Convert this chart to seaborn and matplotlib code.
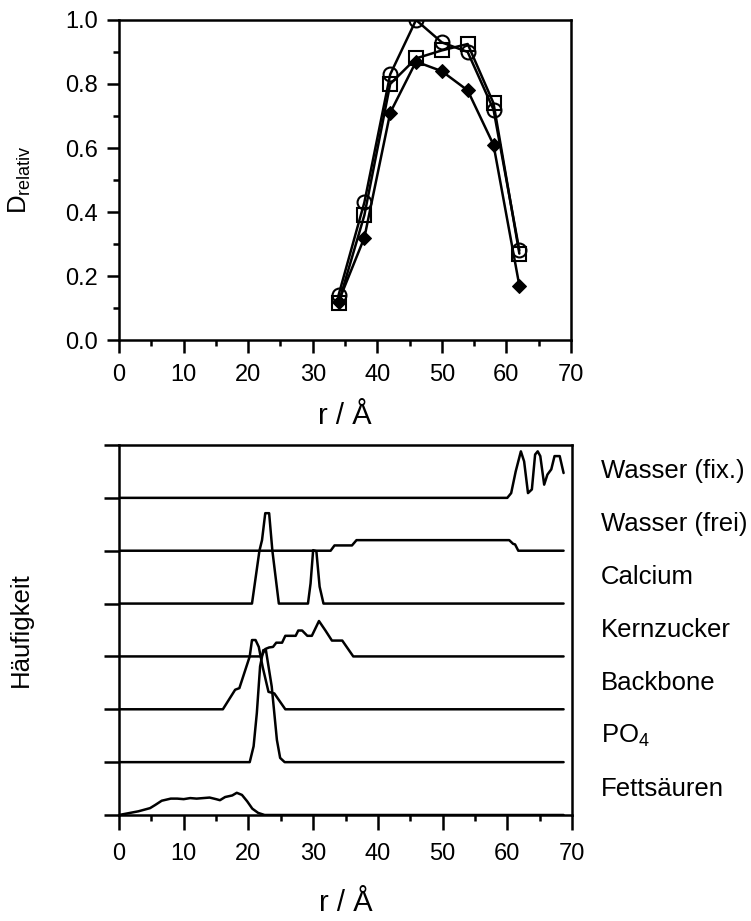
import numpy as np
import pandas as pd
import matplotlib
matplotlib.use("Agg")
import matplotlib.pyplot as plt
from matplotlib.ticker import MultipleLocator
import seaborn as sns

# ---------------- data: top panel ----------------
r_top = [34, 38, 42, 46, 50, 54, 58, 62]
d_circle = [0.14, 0.43, 0.83, 1.00, 0.93, 0.90, 0.72, 0.28]
d_square = [0.115, 0.39, 0.80, 0.88, 0.905, 0.925, 0.74, 0.27]
d_diamond = [0.12, 0.32, 0.71, 0.87, 0.84, 0.78, 0.61, 0.17]

# ---------------- data: bottom panel (distributions) ----------------
series_names = ["Fettsäuren", "PO$_4$", "Backbone", "Kernzucker", "Calcium",
                "Wasser (frei)", "Wasser (fix.)"]

fett_r = [0, 3, 4.8, 5.6, 6.6, 8, 9, 10, 11, 12, 13, 14, 15, 15.6, 16.4, 17.5,
          18.2, 19, 19.8, 20.6, 21.5, 22.5, 68.7]
fett_h = [0, 0.07, 0.13, 0.19, 0.27, 0.31, 0.31, 0.30, 0.32, 0.31, 0.32, 0.33,
          0.30, 0.28, 0.34, 0.37, 0.42, 0.38, 0.26, 0.12, 0.04, 0, 0]

po4_r = [0, 20.2, 20.8, 21.3, 21.8, 22.3, 22.7, 23.6, 24.4, 24.9, 25.6, 68.7]
po4_h = [0, 0, 0.30, 0.93, 1.81, 2.12, 2.12, 1.43, 0.42, 0.08, 0, 0]

bb_r = [0, 16.05, 17.95, 18.6, 20.2, 20.55, 21.1, 21.6, 22.2, 23.1, 24.0, 25.7, 68.7]
bb_h = [0, 0, 0.37, 0.40, 1.00, 1.31, 1.31, 1.18, 0.80, 0.33, 0.30, 0, 0]

kz_r = [0, 22.0, 22.6, 23.2, 23.8, 24.3, 25.2, 25.7, 27.3, 27.7, 28.3, 29.1,
        29.8, 30.9, 31.9, 32.9, 34.5, 36.2, 68.7]
kz_h = [0, 0, 0.14, 0.17, 0.18, 0.26, 0.26, 0.39, 0.39, 0.49, 0.49, 0.39,
        0.39, 0.67, 0.49, 0.30, 0.30, 0, 0]

ca_r = [0, 20.55, 21.7, 22.1, 22.6, 23.2, 23.7, 24.7, 29.2, 29.6, 30.0, 30.5,
        31.0, 31.6, 68.7]
ca_h = [0, 0, 1.00, 1.20, 1.71, 1.71, 1.00, 0, 0, 0.38, 1.01, 0.99, 0.32, 0, 0]

wfrei_r = [0, 32.7, 33.3, 36.0, 36.7, 60.3, 60.9, 61.2, 61.7, 68.7]
wfrei_h = [0, 0, 0.10, 0.10, 0.20, 0.20, 0.13, 0.12, 0, 0]

wfix_r = [0, 60.0, 60.6, 61.3, 62.1, 62.6, 63.2, 63.8, 64.3, 64.7, 65.1, 65.7,
          66.2, 66.8, 67.3, 68.1, 68.7]
wfix_h = [0, 0, 0.09, 0.50, 0.88, 0.69, 0.09, 0.16, 0.82, 0.88, 0.79, 0.25,
          0.44, 0.54, 0.79, 0.79, 0.47]

series_r = [fett_r, po4_r, bb_r, kz_r, ca_r, wfrei_r, wfix_r]
series_h = [fett_h, po4_h, bb_h, kz_h, ca_h, wfrei_h, wfix_h]

x_ticks = [0, 10, 20, 30, 40, 50, 60, 70]
y_ticks_top = [0.0, 0.2, 0.4, 0.6, 0.8, 1.0]

# ---------------- styling ----------------
sns.set_theme(style="ticks")
plt.rcParams["font.family"] = ["Liberation Sans", "DejaVu Sans"]
plt.rcParams["mathtext.fontset"] = "custom"
plt.rcParams["mathtext.rm"] = "Liberation Sans"
plt.rcParams["mathtext.it"] = "Liberation Sans"
plt.rcParams["mathtext.default"] = "regular"
for key in ["text.color", "axes.labelcolor", "xtick.color", "ytick.color",
            "axes.edgecolor"]:
    plt.rcParams[key] = "black"

TICK_FS = 17
LABEL_FS = 18.5
XLABEL_FS = 21
LW = 1.8

fig = plt.figure(figsize=(7.51, 9.21), dpi=100)
ax1 = fig.add_axes([119 / 751, (921 - 340) / 921, 452 / 751, 320 / 921])
ax2 = fig.add_axes([119 / 751, (921 - 815) / 921, 453 / 751, 370 / 921])

# ---- top panel ----
common = dict(color="black", linewidth=LW, estimator=None, legend=False)
sns.lineplot(x=r_top, y=d_diamond, ax=ax1, marker="D", markersize=7,
             markerfacecolor="black", markeredgecolor="black", **common)
sns.lineplot(x=r_top, y=d_square, ax=ax1, marker="s", markersize=10,
             markerfacecolor="none", markeredgecolor="black",
             markeredgewidth=1.5, **common)
sns.lineplot(x=r_top, y=d_circle, ax=ax1, marker="o", markersize=10,
             markerfacecolor="none", markeredgecolor="black",
             markeredgewidth=1.5, **common)

ax1.set_xlim(0, 70)
ax1.set_ylim(0, 1.0)
ax1.set_xticks(x_ticks)
ax1.set_xticklabels([str(v) for v in x_ticks])
ax1.set_yticks(y_ticks_top)
ax1.set_yticklabels([f"{v:.1f}" for v in y_ticks_top])
ax1.xaxis.set_minor_locator(MultipleLocator(5))
ax1.yaxis.set_minor_locator(MultipleLocator(0.1))
ax1.tick_params(which="major", direction="out", length=9, width=LW,
                labelsize=TICK_FS, color="black", labelcolor="black")
ax1.tick_params(which="minor", direction="out", length=4.5, width=LW,
                color="black")
ax1.tick_params(axis="x", which="major", pad=8)
ax1.tick_params(axis="y", which="major", pad=6)
ax1.set_xlabel("r / Å", fontsize=XLABEL_FS, color="black")
ax1.set_ylabel("D$_{relativ}$", fontsize=LABEL_FS, color="black")
ax1.xaxis.set_label_coords(0.5, -0.195)
ax1.yaxis.set_label_coords(-0.19, 0.5)

# ---- bottom panel ----
for i, (rr, hh) in enumerate(zip(series_r, series_h)):
    df = pd.DataFrame({"r": rr, "h": np.asarray(hh) + i})
    sns.lineplot(data=df, x="r", y="h", ax=ax2, sort=False, **common)
    ax2.text(74.5, i + 0.5, series_names[i], fontsize=LABEL_FS,
             va="center", ha="left", clip_on=False, color="black")

ax2.set_xlim(0, 70)
ax2.set_ylim(0, 7)
ax2.set_xticks(x_ticks)
ax2.set_xticklabels([str(v) for v in x_ticks])
ax2.set_yticks(range(0, 8))
ax2.set_yticklabels([])
ax2.xaxis.set_minor_locator(MultipleLocator(5))
ax2.tick_params(which="major", direction="out", length=11, width=LW,
                labelsize=TICK_FS, color="black", labelcolor="black")
ax2.tick_params(which="minor", direction="out", length=4.5, width=LW,
                color="black")
ax2.tick_params(axis="x", which="major", pad=9)
ax2.set_xlabel("r / Å", fontsize=XLABEL_FS, color="black")
ax2.set_ylabel("Häufigkeit", fontsize=LABEL_FS, color="black")
ax2.xaxis.set_label_coords(0.5, -0.2)
ax2.yaxis.set_label_coords(-0.19, 0.5)

for ax in (ax1, ax2):
    for sp in ax.spines.values():
        sp.set_visible(True)
        sp.set_linewidth(LW)
        sp.set_color("black")

fig.savefig("out.png", dpi=100)
